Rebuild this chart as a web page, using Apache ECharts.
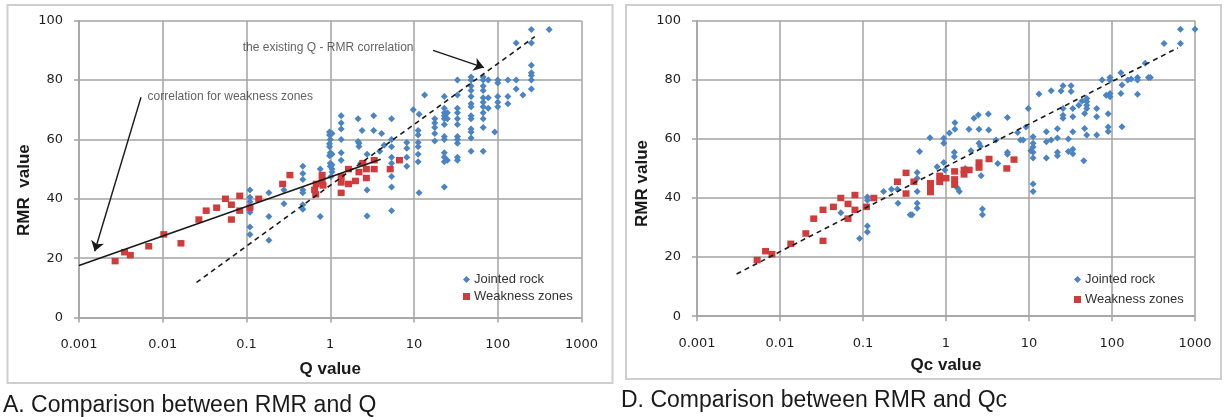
<!DOCTYPE html>
<html><head><meta charset="utf-8">
<script src="https://cdn.jsdelivr.net/npm/echarts@6/dist/echarts.min.js"></script>
<style>html,body{margin:0;padding:0;background:#fff}#c{width:1222px;height:417px}</style>
</head><body><div id="c"></div>
<script>
// ---------- data ----------
const xTickLabels = ['0.001', '0.01', '0.1', '1', '10', '100', '1000'];
const yTickStep = 20;

// Panel A: RMR vs Q  ([Q, RMR])
const jointedQ = [
  [0.11,43],[0.11,40.5],[0.11,39],[0.11,37.5],[0.11,35.5],[0.11,30.5],[0.11,28],
  [0.185,42],[0.185,34],[0.185,26],[0.28,43],[0.28,38.3],
  [0.47,51],[0.47,48.5],[0.47,46.5],[0.47,43],[0.47,42],[0.47,38],[0.47,36.5],
  [0.76,50],[0.76,34],
  [0.98,62.5],[0.98,61.5],[1.0,60],[0.98,58.5],[0.98,57.5],[1.0,55.5],[0.98,54.5],[1.0,52],[1.0,51],[1.05,50],[1.05,49],[1.02,47.5],[1.05,62],[1.05,55],[1.05,51.5],
  [1.35,68],[1.35,65.5],[1.35,63.5],[1.35,60],[1.35,55.5],[1.35,53],
  [2.15,67],[2.15,59.3],[2.2,58.7],[2.2,57.6],[2.4,63],[2.3,52],
  [2.75,55],[2.75,43],[2.75,34.2],[3.3,68],[3.3,63],
  [4.1,62],[3.9,56],[4.4,58],
  [5.4,67],[5.4,60],[5.4,57.5],[5.4,54],[5.4,52],[5.4,47.5],[5.4,44],[5.4,36],
  [8.2,59],[8.2,57],[8.2,54],[8.2,51],
  [9.8,70],[11.5,68.5],[11.2,63],[11.2,61.5],[11.2,59],[11.2,57.5],[11.2,55],[11.2,52.5],[11.5,42],
  [13.4,75],
  [17.7,67],[17.7,65.5],[17.7,64],[17.7,62],[17.7,59.5],
  [23,74.5],[23,70.5],[23,69],[23,68],[23,67],[23,65],[23,61],[23,60],[23,55.5],[23,54],[23,52.5],[23,44],[25,69],[25,67],[25,53],
  [33,80],[33,75],[33,70.5],[33,69],[33,67],[33,65],[33,61],[33,60],[33,58.7],[33,54],[33,53],
  [48,81],[48,80],[48,78],[48,76.5],[48,74.5],[48,72],[48,71],[48,68],[48,67],[48,63.5],[48,62.5],[48,60.5],[48,56],
  [67,81],[67,80],[67,78],[67,76.5],[67,74],[67,72.5],[67,71],[67,69],[67,67],[67,64],[67,56],
  [77,80],[77,74],[77,70.5],[92,62.5],
  [100,80],[100,79],[100,74.5],[100,72.5],[100,71],
  [132,80],[132,74.5],[132,72],
  [166,92.5],[166,80],[166,77],[200,75],
  [252,97],[252,92.5],[252,85],[252,82.5],[252,81.5],[252,80],[252,77],
  [411,97]
];
const weakQ = [
  [0.0027,19],[0.0035,22],[0.0041,21],[0.0068,24],[0.0103,28],[0.0165,25],[0.027,33],[0.033,36],[0.044,37],
  [0.056,40],[0.066,38],[0.066,33],[0.083,41],[0.083,36],[0.11,37],[0.14,40],[0.27,45],[0.33,48],
  [0.65,43],[0.67,41.5],[0.68,45],[0.8,48],[0.8,46],[0.82,44.5],
  [1.35,42],[1.35,45.5],[1.35,47.5],[1.65,50],[1.65,45],[2.0,46],[2.2,49],[2.45,52],[2.7,47],[2.7,50],
  [3.35,53],[3.35,50],[5.2,50],[6.7,53]
];
const weakCorrQ = [[0.001,17.5],[4,53.3]];
const existingCorrQ = [[0.0253,11.8],[277,94.6]];
const arrowExisting = [[16.9,90],[68.4,84.2]];
const arrowWeak = [[0.0055,74.2],[0.00154,22.3]];
const noteExisting = [0.089,90.9];
const noteWeak = [0.0065,74.4];

// Panel D: RMR vs Qc  ([Qc, RMR])
const jointedQc = [
  [0.054,35],[0.091,26.3],[0.113,40.3],[0.113,39.2],[0.113,30.5],[0.113,28.5],
  [0.177,42.2],[0.22,43],[0.26,43],[0.264,38.2],[0.37,34.3],[0.39,34.3],
  [0.45,48.6],[0.45,46.7],[0.45,42.2],[0.45,38.2],[0.45,36.5],[0.48,55.7],
  [0.64,60.4],[0.78,50.6],[0.94,60.2],[0.94,58.5],[0.94,52],[0.97,49.5],[1.1,62],
  [1.28,65.5],[1.28,63.3],[1.26,55.5],[1.26,54],[1.38,43.3],[1.45,42.2],[1.7,50],
  [1.89,63.3],[2.0,56],[2.17,67],[2.45,68.1],[2.5,63.3],[2.5,58.5],[2.6,57.5],[2.65,47.5],[2.75,36.3],[2.75,34.3],
  [3.24,68.4],[3.27,63],[4.0,59.6],[4.2,51.7],[5.5,67.2],[5.5,55.5],[5.5,54.8],
  [7.3,62.2],[7.9,59.6],[8.5,59.6],[9.2,64],[9.8,70.3],[10.5,56],
  [11.2,60.7],[11.2,58.5],[11.2,57.3],[11.2,55.5],[11.2,53.5],[11.2,44.7],[11.2,42.2],
  [13.2,75.2],[16.2,62.4],[16.2,59],[16.2,53.5],[18.5,76.3],[18.5,59.6],
  [22,63.4],[22,60.3],[22,55.5],[22,54.3],[24.3,76.2],[25.7,78],[25.7,70.3],[25.7,68],[25.7,67],
  [29.8,60],[29.8,55.7],[32.1,78],[32.1,76],[33.7,70.3],[33.7,67.5],[33.7,62.4],[33.7,56.5],[33.7,55],
  [39.8,71.4],[43.6,72.8],[45.7,52.6],[46.8,68.6],[46.8,63.5],[49.6,73.7],[49.6,72.6],[49.6,71.4],[49.6,70.3],[49.6,61.3],
  [65.4,70.3],[65.4,67.5],[65.4,61.3],[76,79.9],[85,74.8],[90,68.5],[90,64],[90,62.5],
  [94.6,80.8],[94.6,79.9],[94.6,75.4],[94.6,74.3],
  [128,82.4],[128,75.4],[132,78.2],[132,64.1],[155,79.9],[170,80.3],[203,80.8],[203,79.9],[203,75.1],
  [251,85.6],[275,80.8],[290,80.8],[424,92.3],[668,97.1],[668,92.3],[1000,97.1]
];
const weakQc = [
  [0.0053,19],[0.0067,22],[0.008,21],[0.0135,24.5],[0.0205,28],[0.0255,33],[0.033,25.5],[0.033,36],[0.044,37],
  [0.054,40],[0.066,38],[0.066,33],[0.08,41],[0.08,36],[0.11,37],[0.135,40],[0.26,45.5],[0.33,48.5],[0.33,41.5],
  [0.41,45.5],[0.65,45],[0.65,43.3],[0.65,42],[0.84,47.5],[0.84,45.5],[1.0,46.7],[1.27,49],[1.27,46.3],[1.27,44.5],
  [1.65,49.5],[1.65,48],[1.9,49.5],[2.5,52],[2.5,50.3],[3.3,53.2],[5.4,50],[6.6,53]
];
const corrQc = [[0.003,14.3],[620,90.8]];

// ---------- styles ----------
const BLUE = '#4a84c4', RED = '#d03b3b';
const GRID_C = '#a3a3a3';
const TICK_FONT = 'DejaVu Sans';
const SANS = 'Liberation Sans';

function xAxisDef(gridIndex, name, gap) {
  return {
    type: 'log', logBase: 10, gridIndex, min: 0.001, max: 1000, splitNumber: 6,
    name, nameLocation: 'middle', nameGap: gap,
    nameTextStyle: { fontFamily: SANS, fontWeight: 'bold', fontSize: 17, color: '#1a1a1a' },
    axisLine: { show: true, lineStyle: { color: GRID_C, width: 1.5 } },
    axisTick: { show: true, inside: false, length: 5, lineStyle: { color: GRID_C, width: 1.5 } },
    minorTick: { show: false },
    splitLine: { show: true, lineStyle: { color: GRID_C, width: 1.5 } },
    axisLabel: { margin: 21, fontFamily: TICK_FONT, fontSize: 13, color: '#1e1e1e',
      formatter: v => xTickLabels[Math.round(Math.log10(v)) + 3] }
  };
}
function yAxisDef(gridIndex, name, gap, shift) {
  return {
    type: 'value', gridIndex, min: 0, max: 100, interval: yTickStep,
    name, nameLocation: 'middle', nameGap: gap,
    nameTextStyle: { fontFamily: SANS, fontWeight: 'bold', fontSize: 17, color: '#1a1a1a', padding: [0, shift, 0, 0] },
    axisLine: { show: true, lineStyle: { color: GRID_C, width: 1.5 } },
    axisTick: { show: true, inside: false, length: 5, lineStyle: { color: GRID_C, width: 1.5 } },
    splitLine: { show: true, lineStyle: { color: GRID_C, width: 1.5 } },
    axisLabel: { margin: 16, fontFamily: TICK_FONT, fontSize: 13, color: '#1e1e1e' }
  };
}
function scatterDef(name, data, idx, color, symbol, size) {
  return { type: 'scatter', name, data, xAxisIndex: idx, yAxisIndex: idx,
    symbol, symbolSize: size, itemStyle: { color, opacity: 1 }, silent: true, z: 2 };
}
function lineDef(data, idx, type) {
  return { type: 'line', data, xAxisIndex: idx, yAxisIndex: idx, showSymbol: false, symbol: 'none',
    itemStyle: { color: '#1a1a1a' },
    lineStyle: { color: '#1a1a1a', width: 1.6, type }, silent: true, z: 3 };
}
function arrowDef(pts, idx) {
  // annotation arrow drawn through the axes: shaft + arrowhead at the end point
  return { type: 'lines', coordinateSystem: 'cartesian2d', xAxisIndex: idx, yAxisIndex: idx,
    silent: true, z: 4,
    symbol: ['none', 'arrow'], symbolSize: 10,
    lineStyle: { color: '#1a1a1a', width: 1.4, opacity: 1, curveness: 0 },
    itemStyle: { color: '#1a1a1a' },
    data: [{ coords: pts }] };
}
function noteDef(text, at, idx) {
  return { type: 'scatter', data: [{ value: at, name: text }], xAxisIndex: idx, yAxisIndex: idx,
    symbolSize: 1, itemStyle: { color: 'rgba(0,0,0,0)' }, silent: true, z: 4,
    label: { show: true, position: 'right', distance: 0, formatter: '{b}',
      fontFamily: SANS, fontSize: 12, color: '#3a3a3a' } };
}
function legendDef(left, top, gap) {
  return { orient: 'vertical', left, top, itemWidth: 7, itemHeight: 7, itemGap: gap, selectedMode: false,
    textStyle: { fontFamily: SANS, fontSize: 13, color: '#333', padding: [0, 0, 0, -1] },
    data: [{ name: 'Jointed rock', icon: 'diamond' }, { name: 'Weakness zones', icon: 'rect' }] };
}

const chart = echarts.init(document.getElementById('c'), null, { renderer: 'canvas' });
chart.setOption({
  animation: false,
  backgroundColor: '#fff',
  grid: [
    { left: 79, top: 20.7, width: 502.5, height: 296.8, outerBoundsMode: 'none' },
    { left: 697, top: 20.7, width: 498, height: 295.5, outerBoundsMode: 'none' }
  ],
  xAxis: [xAxisDef(0, 'Q value', 43), xAxisDef(1, 'Qc value', 41)],
  yAxis: [yAxisDef(0, 'RMR  value', 46, 42), yAxisDef(1, 'RMR value', 46, 30)],
  legend: [legendDef(458, 268, 4), legendDef(1069, 268, 7)],
  series: [
    scatterDef('Jointed rock', jointedQ, 0, BLUE, 'diamond', [7, 7]),
    scatterDef('Weakness zones', weakQ, 0, RED, 'rect', [7, 6.5]),
    lineDef(weakCorrQ, 0, 'solid'),
    lineDef(existingCorrQ, 0, [5, 4]),
    arrowDef(arrowWeak, 0),
    arrowDef(arrowExisting, 0),
    noteDef('the existing Q - RMR correlation', noteExisting, 0),
    noteDef('correlation for weakness zones', noteWeak, 0),
    scatterDef('Jointed rock', jointedQc, 1, BLUE, 'diamond', [7, 7]),
    scatterDef('Weakness zones', weakQc, 1, RED, 'rect', [7, 6.5]),
    lineDef(corrQc, 1, [5, 4])
  ],
  graphic: [
    { type: 'rect', shape: { x: 7.5, y: 5, width: 605, height: 378 }, style: { fill: 'none', stroke: '#cfcfcf', lineWidth: 2 }, silent: true },
    { type: 'rect', shape: { x: 626, y: 5, width: 595, height: 374 }, style: { fill: 'none', stroke: '#cfcfcf', lineWidth: 2 }, silent: true },
    { type: 'text', left: 3, top: 394, style: { text: 'A. Comparison between RMR and Q', font: '23px "Liberation Sans"', fill: '#1a1a1a' }, silent: true },
    { type: 'text', left: 621, top: 389, style: { text: 'D. Comparison between RMR and Qc', font: '23px "Liberation Sans"', fill: '#1a1a1a' }, silent: true }
  ]
});
</script></body></html>
